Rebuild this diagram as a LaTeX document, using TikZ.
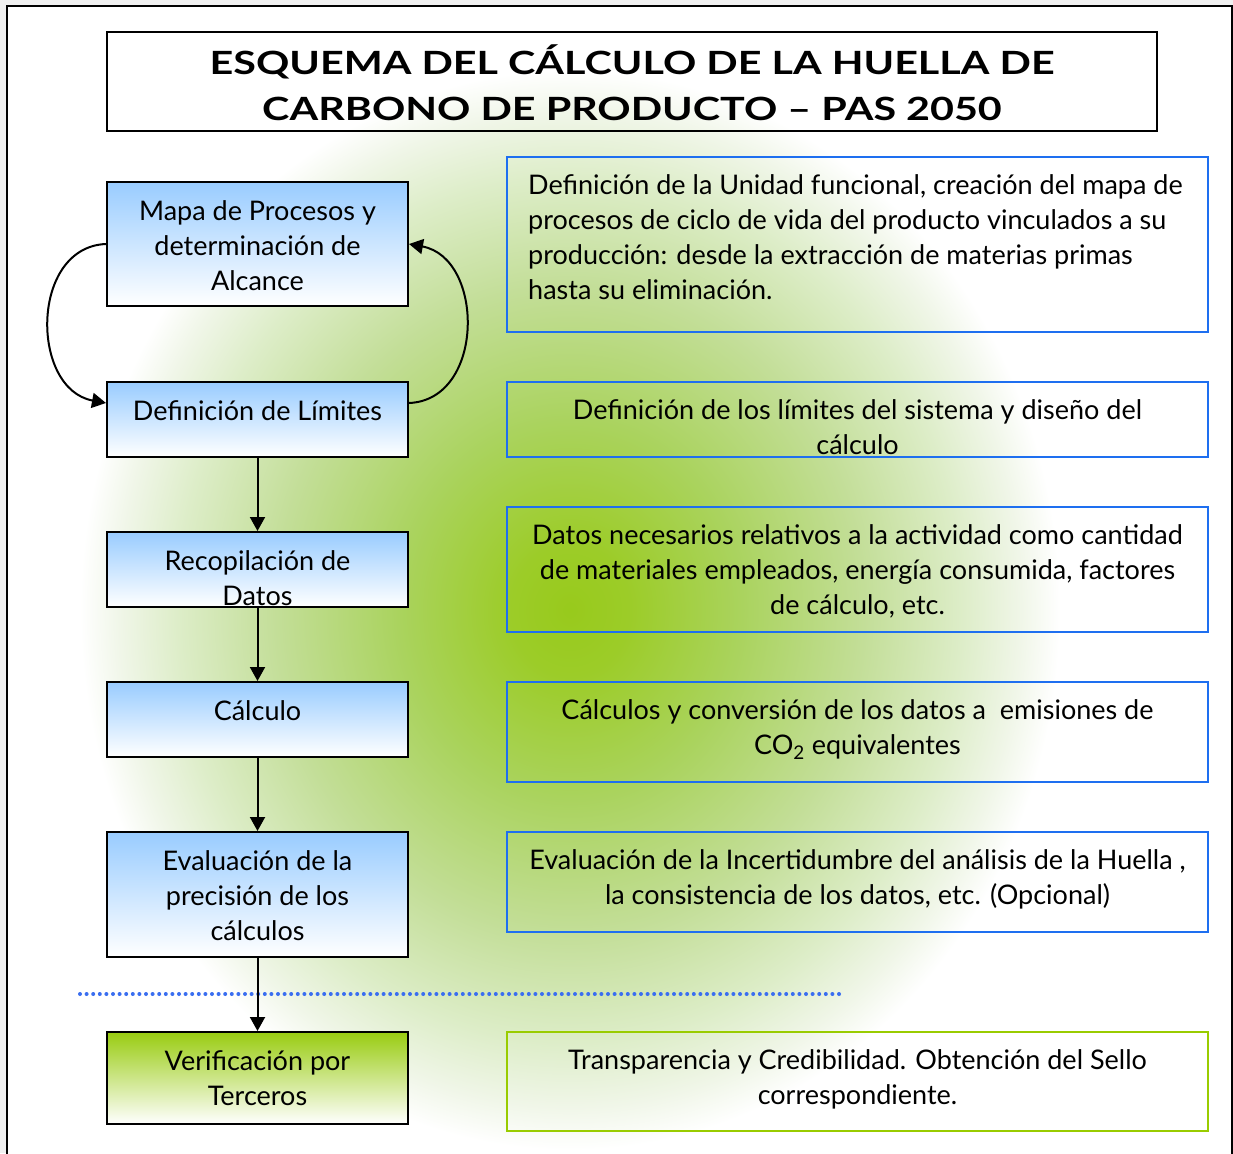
\documentclass[tikz,border=0pt]{standalone}
\usepackage{fontspec}
\setmainfont{Lato}
\newfontfamily\titlefont[FakeStretch=1.29]{Lato}
\usetikzlibrary{arrows.meta,calc}
\definecolor{bgGray}{HTML}{F0F0F0}
\definecolor{gA}{HTML}{98CA1C}
\definecolor{gA2}{HTML}{9CCC28}
\definecolor{gB}{HTML}{AAD35E}
\definecolor{gC}{HTML}{C3DE98}
\definecolor{gD}{HTML}{DDEDC8}
\definecolor{gE}{HTML}{F0F6E8}
\definecolor{boxBlue}{HTML}{99CCFF}
\definecolor{boxGreen}{HTML}{99CC11}
\definecolor{lineBlue}{HTML}{1E6FF0}
\definecolor{lineGreen}{HTML}{99CC00}
\definecolor{dotBlue}{HTML}{3A6EF0}
\pgfdeclareradialshading{glow}{\pgfpoint{0bp}{0bp}}{color(0bp)=(gA); color(3bp)=(gA2); color(8.75bp)=(gB); color(15bp)=(gC); color(20bp)=(gD); color(23bp)=(gE); color(25bp)=(white); color(50bp)=(white)}
\begin{document}
\begin{tikzpicture}[x=1pt,y=-1pt,
  lbox/.style={draw=black, line width=2pt, top color=boxBlue, bottom color=white, minimum width=301, inner sep=0pt},
  vbox/.style={draw=black, line width=2pt, top color=boxGreen, bottom color=white, minimum width=301, inner sep=0pt},
  rbox/.style={draw=lineBlue, line width=2pt, minimum width=701, inner sep=0pt},
  gbox/.style={draw=lineGreen, line width=2pt, minimum width=701, inner sep=0pt},
  btext/.style={font=\fontsize{27}{35}\selectfont, align=center, inner sep=0pt, anchor=base},
  arr/.style={line width=2pt, -{Triangle[length=14pt,width=15pt]}},
  dotline/.style={dotBlue, line width=4pt, line cap=round, dash pattern=on 0pt off 6.6pt}
]
\useasboundingbox (0,0) rectangle (1233,1153);
\fill[bgGray] (0,0) rectangle (1233,1153);
\begin{scope}
  \clip (7,6) rectangle (1232,1160);
  \fill[white] (7,6) rectangle (1232,1160);
  \shade[shading=glow] (570,610) ellipse [x radius=490, y radius=540];
\end{scope}
\draw[line width=1.6pt] (7,6) rectangle (1232,1160);

% title
\node[draw=black, line width=2pt, minimum width=1050, minimum height=99, inner sep=0pt] (title) at (632,81.5) {};
\node[font=\titlefont\fontsize{32}{46}\selectfont\bfseries, align=center, inner sep=0pt, anchor=base] (titleT) at (632,121) {ESQUEMA DEL CÁLCULO DE LA HUELLA DE\\CARBONO DE PRODUCTO – PAS 2050};

% left column
\node[lbox, minimum height=124] (mapa) at (257.5,244) {};
\node[lbox, minimum height=75] (lim) at (257.5,419.5) {};
\node[lbox, minimum height=75] (rec) at (257.5,569.5) {};
\node[lbox, minimum height=75] (calc) at (257.5,719.5) {};
\node[lbox, minimum height=125] (eval) at (257.5,894.5) {};
\node[vbox, minimum height=92] (ver) at (257.5,1078) {};

\node[btext] (mapaT) at (257.5,290) {Mapa de Procesos y\\determinación de\\Alcance};
\node[btext] (limT) at (257.5,420) {Definición de Límites};
\node[btext] (recT) at (257.5,605) {Recopilación de\\Datos};
\node[btext] (calcT) at (257.5,720) {Cálculo};
\node[btext] (evalT) at (257.5,940) {Evaluación de la\\precisión de los\\cálculos};
\node[btext] (verT) at (257.5,1105) {Verificación por\\Terceros};

% right column
\node[rbox, minimum height=175] (r1) at (857.5,244.5) {};
\node[rbox, minimum height=75] (r2) at (857.5,419.5) {};
\node[rbox, minimum height=125] (r3) at (857.5,569.5) {};
\node[rbox, minimum height=100] (r4) at (857.5,732) {};
\node[rbox, minimum height=100] (r5) at (857.5,882) {};
\node[gbox, minimum height=99] (r6) at (857.5,1081.5) {};

\node[btext, align=left, anchor=base west] (r1T) at (528,299) {Definición de la Unidad funcional, creación del mapa de\\procesos de ciclo de vida del producto vinculados a su\\producción: desde la extracción de materias primas\\hasta su eliminación.};
\node[btext] (r2T) at (857.5,454) {Definición de los límites del sistema y diseño del\\cálculo};
\node[btext] (r3T) at (857.5,614) {Datos necesarios relativos a la actividad como cantidad\\de materiales empleados, energía consumida, factores\\de cálculo, etc.};
\node[btext] (r4T) at (857.5,754) {Cálculos y conversión de los datos a~ emisiones de\\CO\textsubscript{2} equivalentes};
\node[btext] (r5T) at (857.5,904) {Evaluación de la Incertidumbre del análisis de la Huella ,\\la consistencia de los datos, etc. (Opcional)};
\node[btext] (r6T) at (857.5,1104) {Transparencia y Credibilidad. Obtención del Sello\\correspondiente.};

% dotted separator
\coordinate (dotA) at (80,994);
\coordinate (dotB) at (840,994);
\draw[dotline] (dotA) -- (dotB);

% connectors
\draw[arr] (lim.south) -- (rec.north);
\draw[arr] (rec.south) -- (calc.north);
\draw[arr] (calc.south) -- (eval.north);
\draw[arr] (eval.south) -- (ver.north);
\draw[arr] (mapa.west) .. controls +(-76,3) and +(-76,-14) .. ($(lim.west)+(0,-16.5)$);
\draw[arr] ($(lim.east)+(0,-16.5)$) .. controls +(76,-3) and +(76,14) .. (mapa.east);
\end{tikzpicture}
\end{document}
